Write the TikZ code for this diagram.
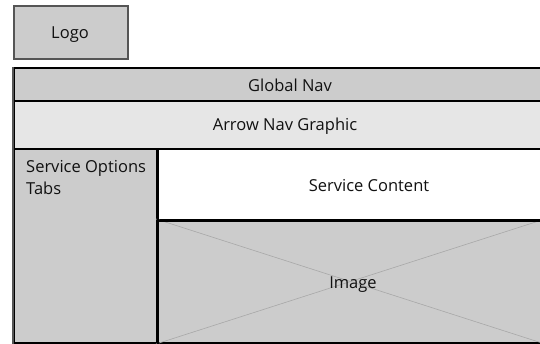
\documentclass[tikz,border=0pt]{standalone}
\usepackage{fontspec}
\setmainfont{Open Sans}
\definecolor{boxgray}{HTML}{CCCCCC}
\definecolor{lightgray}{HTML}{E6E6E6}
\definecolor{edgegray}{HTML}{555555}
\definecolor{diaggray}{HTML}{A8A8A8}
\definecolor{txt}{HTML}{111111}
\begin{document}
\begin{tikzpicture}[x=1pt,y=-1pt,
  panel/.style={draw=black,line width=2pt,inner sep=0pt,anchor=north west,text=txt},
  label/.style={text=txt,font=\fontsize{16.5}{22}\selectfont,inner sep=0pt}]
\useasboundingbox (0,0) rectangle (540,343);
\node[panel,draw=edgegray,line width=1.5pt,fill=boxgray,minimum width=114pt,minimum height=53pt] (logo) at (13,5) {};
\node[panel,fill=boxgray,minimum width=530pt,minimum height=33pt] (global) at (13,67) {};
\node[panel,fill=lightgray,minimum width=530pt,minimum height=48pt] (arrow) at (13,100) {};
\node[panel,fill=boxgray,minimum width=143pt,minimum height=194pt] (tabs) at (13,148) {};
\node[panel,fill=white,minimum width=387pt,minimum height=71pt] (content) at (156,148) {};
\node[panel,fill=boxgray,minimum width=387pt,minimum height=123pt] (image) at (156,219) {};
\draw[diaggray,line width=0.6pt] (image.north west) -- (image.south east);
\draw[diaggray,line width=0.6pt] (image.south west) -- (image.north east);
\draw[panel] (content.south west) -- (content.south east);
\draw[panel] (tabs.north east) -- (tabs.south east);
\draw[edgegray,line width=2pt] (global.north west) -- (tabs.south west);
\node[label] (logotxt) at (70,35) {Logo};
\node[label] (globaltxt) at (290,85) {Global Nav};
\node[label] (arrowtxt) at (285,126) {Arrow Nav Graphic};
\node[label,anchor=north west,align=left] (tabstxt) at (26,160) {Service Options\\Tabs};
\node[label] (contenttxt) at (369,186) {Service Content};
\node[label] (imagetxt) at (353,285) {Image};
\end{tikzpicture}
\end{document}
